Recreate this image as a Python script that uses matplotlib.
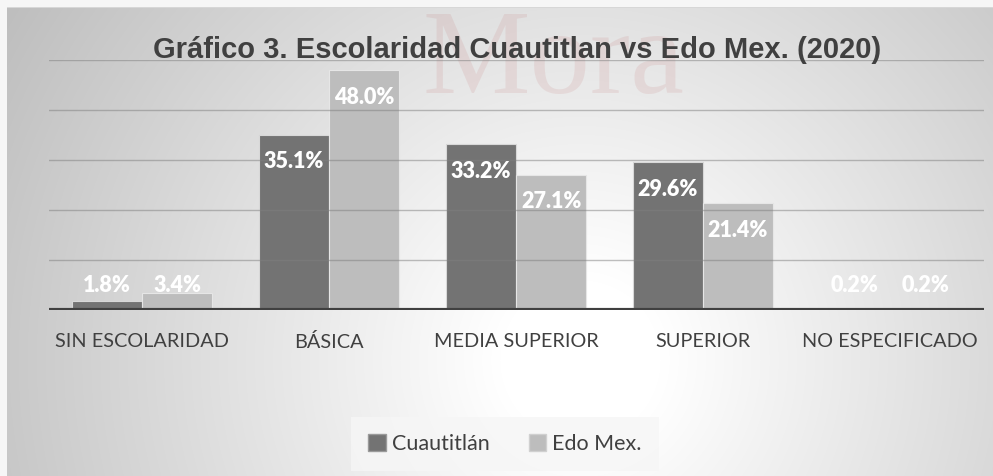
import numpy as np
import matplotlib
matplotlib.use('Agg')
import matplotlib.pyplot as plt
from matplotlib.patches import Patch

# data
categories = ['SIN ESCOLARIDAD', 'BÁSICA', 'MEDIA SUPERIOR', 'SUPERIOR', 'NO ESPECIFICADO']
cuautitlan = [0.018, 0.351, 0.332, 0.296, 0.002]
edomex = [0.034, 0.480, 0.271, 0.214, 0.002]
series_names = ['Cuautitlán', 'Edo Mex.']
title = 'Gráfico 3. Escolaridad Cuautitlan vs Edo Mex. (2020)'

W, H = 993, 476
fig = plt.figure(figsize=(W / 100, H / 100), dpi=100)

# background: light outer strip + radial grey gradient inside chart area
yy, xx = np.mgrid[0:H, 0:W]
d = np.sqrt((xx - 580.0) ** 2 + (yy - 360.0) ** 2)
val = 255 - 0.11 * np.clip(d - 80, 0, None)
val = np.clip(val, 190, 255)
val[(xx < 7) | (yy < 7)] = 246
val[(yy == 7) & (xx >= 7)] = 215
bg = np.dstack([val, val, val]).astype(np.uint8)
ax_bg = fig.add_axes([0, 0, 1, 1], zorder=-10)
ax_bg.imshow(bg, aspect='auto', interpolation='bilinear')
ax_bg.axis('off')

# watermark
fig.text(423 / W, 1 - 93 / H, 'Mora', fontsize=87, family='Liberation Serif',
         color='#b03030', alpha=0.09, ha='left', va='baseline', zorder=-5)

ax = fig.add_axes([48.5 / W, 1 - 310 / H, 935 / W, 250 / H])
ax.patch.set_alpha(0)

x = np.arange(len(categories))
w = 0.375
b1 = ax.bar(x - w / 2, cuautitlan, w, color='#737373', edgecolor='#d8d8d8', linewidth=0.8, zorder=2)
b2 = ax.bar(x + w / 2, edomex, w, color='#bdbdbd', edgecolor='#e6e6e6', linewidth=0.8, zorder=2)

ax.set_xlim(-0.5, len(categories) - 0.5)
ax.set_ylim(0, 0.5)
ax.set_yticks(np.arange(0.1, 0.51, 0.1))
ax.yaxis.grid(True, color='#7f7f7f', linewidth=1, alpha=0.5, zorder=3)
ax.set_axisbelow(False)
ax.tick_params(axis='y', left=False, labelleft=False)
ax.tick_params(axis='x', bottom=False, pad=13)
for s in ax.spines.values():
    s.set_visible(False)
ax.axhline(0, color='#404040', linewidth=3, zorder=4)

ax.set_xticks(x)
ax.set_xticklabels(categories, family='Lato', fontsize=14.3, color='#404040')

for bars, vals in [(b1, cuautitlan), (b2, edomex)]:
    for r, v in zip(bars, vals):
        ax.text(r.get_x() + r.get_width() / 2, max(v - 0.055, 0.048), f'{v * 100:.1f}%',
                ha='center', va='center', color='white', fontsize=15.5,
                family='Lato', fontweight='heavy', zorder=5)

fig.text(517 / W, 1 - 50 / H, title, ha='center', va='center', fontsize=21,
         family='Liberation Sans', fontweight='bold', color='#404040')

handles = [Patch(facecolor='#737373', edgecolor='#9a9a9a'),
           Patch(facecolor='#bdbdbd', edgecolor='#d0d0d0')]
leg = fig.legend(handles, series_names, loc='center', bbox_to_anchor=(505 / W, 1 - 444 / H),
                 ncol=2, frameon=True, fancybox=False, handlelength=0.8, handleheight=0.8,
                 handletextpad=0.3, columnspacing=1.8, borderpad=0.8,
                 prop={'family': 'Lato', 'size': 15.5})
leg.get_frame().set_facecolor('#f6f6f6')
leg.get_frame().set_edgecolor('none')
for t in leg.get_texts():
    t.set_color('#404040')

fig.savefig('out.png', dpi=100)
